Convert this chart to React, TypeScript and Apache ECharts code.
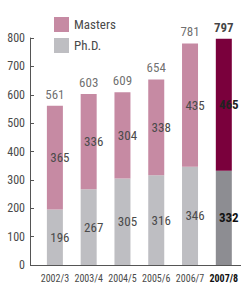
import React, { useEffect, useRef } from "react";
import * as echarts from "echarts";

const categories = ["2002/3", "2003/4", "2004/5", "2005/6", "2006/7", "2007/8"];
const phd = [196, 267, 305, 316, 346, 332];
const masters = [365, 336, 304, 338, 435, 465];
const totals = [561, 603, 609, 654, 781, 797];
const yTicks = { min: 0, max: 800, interval: 100 };

const FONT = "'Roboto Condensed', 'DejaVu Sans Condensed', sans-serif";
const TXT = "#4a4a4a";
const PINK = "#c68aa3";
const GRAY = "#bebec2";
const DARK = "#7a003c";
const DGRAY = "#8d8d92";

export default function App() {
  const ref = useRef<HTMLDivElement>(null);
  useEffect(() => {
    document.body.style.margin = "0";
    if (!ref.current) return;
    const chart = echarts.init(ref.current, undefined, { renderer: "svg" });
    const last = categories.length - 1;
    chart.setOption({
      animation: false,
      textStyle: { fontFamily: FONT },
      legend: {
        orient: "vertical",
        left: 49,
        top: 12,
        itemWidth: 15,
        itemHeight: 15,
        itemGap: 6,
        icon: "rect",
        data: ["Masters", "Ph.D."],
        textStyle: { fontFamily: FONT, fontSize: 13, color: TXT },
      },
      grid: { left: 38, top: 38, bottom: 23, width: 204 },
      xAxis: {
        type: "category",
        data: categories,
        axisLine: { lineStyle: { color: "#555", width: 1 } },
        axisTick: { show: false },
        axisLabel: {
          interval: 0,
          margin: 8,
          fontFamily: FONT,
          fontSize: 10,
          formatter: (v: string) => (v === categories[last] ? "{b|" + v + "}" : "{n|" + v + "}"),
          rich: {
            n: { fontFamily: FONT, fontSize: 10, color: TXT },
            b: { fontFamily: FONT, fontSize: 10, color: "#111", fontWeight: "bold" },
          },
        },
      },
      yAxis: {
        type: "value",
        min: yTicks.min,
        max: yTicks.max,
        interval: yTicks.interval,
        offset: 8,
        axisLine: { show: true, lineStyle: { color: "#555", width: 1 } },
        axisTick: { show: true, inside: true, length: 4, lineStyle: { color: "#555" } },
        splitLine: { show: false },
        axisLabel: { margin: 5, fontFamily: FONT, fontSize: 12, color: TXT },
      },
      graphic: [
        { type: "line", shape: { x1: 30, y1: 265.5, x2: 38, y2: 265.5 }, style: { stroke: "#555", lineWidth: 1 } },
      ],
      series: [
        {
          name: "Ph.D.",
          type: "bar",
          stack: "s",
          barWidth: 16,
          itemStyle: { color: GRAY },
          data: phd.map((v, i) =>
            i === last
              ? { value: v, itemStyle: { color: DGRAY }, label: { color: "#111", fontWeight: "bold" } }
              : v
          ),
          label: { show: true, position: "inside", offset: [5, 0], fontFamily: FONT, fontSize: 13, color: TXT },
        },
        {
          name: "Masters",
          type: "bar",
          stack: "s",
          barWidth: 16,
          itemStyle: { color: PINK },
          data: masters.map((v, i) =>
            i === last
              ? { value: v, itemStyle: { color: DARK }, label: { color: "#222", fontWeight: "bold" } }
              : v
          ),
          label: { show: true, position: "inside", offset: [5, 0], fontFamily: FONT, fontSize: 13, color: TXT },
        },
        {
          name: "Total",
          type: "scatter",
          symbolSize: 0,
          data: totals.map((v, i) =>
            i === last ? { value: v, label: { color: "#111", fontWeight: "bold" } } : v
          ),
          label: { show: true, position: "top", distance: 5, fontFamily: FONT, fontSize: 13, color: TXT },
        },
      ],
    });
    return () => chart.dispose();
  }, []);
  return <div ref={ref} style={{ width: 241, height: 288 }} />;
}
